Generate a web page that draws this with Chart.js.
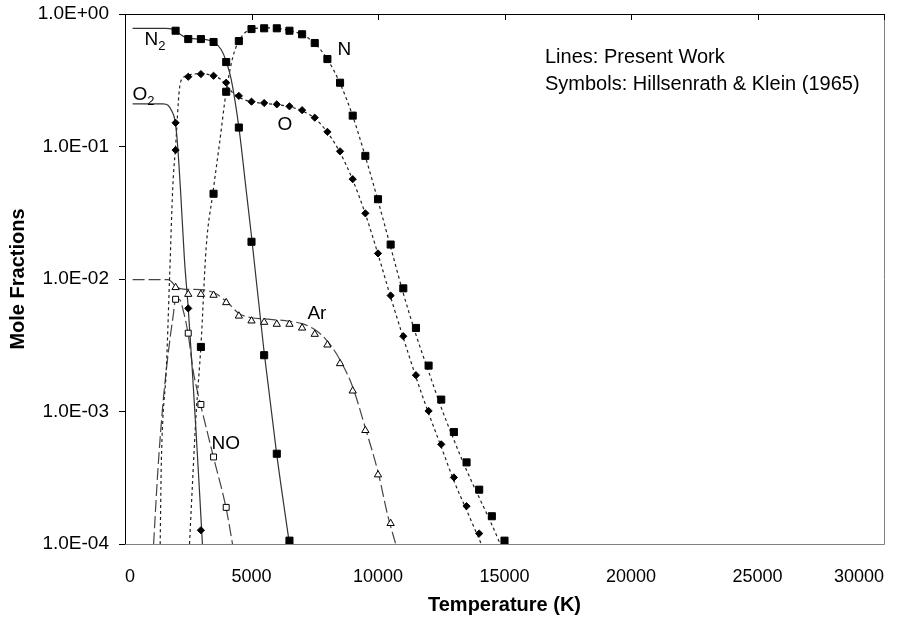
<!DOCTYPE html>
<html>
<head>
<meta charset="utf-8">
<script src="https://cdn.jsdelivr.net/npm/chart.js@4.4.1/dist/chart.umd.min.js"></script>
<style>
  html, body { margin: 0; padding: 0; background: #fff; }
  canvas { display: block; }
</style>
</head>
<body>
<canvas id="chart" width="916" height="621"></canvas>
<script>
// Axis ticks
const xTicks = [0, 5000, 10000, 15000, 20000, 25000, 30000];
const yTicks = [1e-4, 1e-3, 1e-2, 1e-1, 1];

// Symbols: Hillsenrath & Klein (1965)
const n2SymT = [2000, 2500, 3000, 3500, 4000, 4500, 5000, 5500, 6000, 6500];
const n2SymY = [0.748, 0.647, 0.647, 0.615, 0.434, 0.139, 0.0191, 2.66e-3, 4.8e-4, 1.06e-4];

const o2SymT = [2000, 2500, 3000];
const o2SymY = [0.151, 6.0e-3, 1.27e-4];

const nSymT = [3000, 3500, 4000, 4500, 5000, 5500, 6000, 6500, 7000, 7500, 8000, 8500, 9000,
  9500, 10000, 10500, 11000, 11500, 12000, 12500, 13000, 13500, 14000, 14500, 15000];
const nSymY = [3.07e-3, 0.044, 0.259, 0.625, 0.77, 0.78, 0.78, 0.748, 0.703, 0.604, 0.457, 0.303, 0.171,
  0.085, 0.040, 0.0182, 8.5e-3, 4.27e-3, 2.22e-3, 1.23e-3, 7.0e-4, 4.13e-4, 2.57e-4, 1.62e-4, 1.06e-4];

const oSymT = [2000, 2500, 3000, 3500, 4000, 4500, 5000, 5500, 6000, 6500, 7000, 7500, 8000,
  8500, 9000, 9500, 10000, 10500, 11000, 11500, 12000, 12500, 13000, 13500, 14000];
const oSymY = [0.094, 0.336, 0.352, 0.342, 0.303, 0.241, 0.218, 0.213, 0.208, 0.201, 0.188, 0.165, 0.129,
  0.092, 0.0567, 0.0313, 0.0156, 7.5e-3, 3.7e-3, 1.88e-3, 1.01e-3, 5.65e-4, 3.18e-4, 1.93e-4, 1.20e-4];

const arSymT = [2000, 2500, 3000, 3500, 4000, 4500, 5000, 5500, 6000, 6500, 7000, 7500, 8000,
  8500, 9000, 9500, 10000, 10500];
const arSymY = [8.63e-3, 7.67e-3, 7.67e-3, 7.55e-3, 6.64e-3, 5.26e-3, 4.83e-3, 4.72e-3, 4.56e-3, 4.56e-3,
  4.27e-3, 3.83e-3, 3.18e-3, 2.30e-3, 1.43e-3, 7.2e-4, 3.33e-4, 1.43e-4];

const noSymT = [2000, 2500, 3000, 3500, 4000];
const noSymY = [7.03e-3, 3.9e-3, 1.13e-3, 4.54e-4, 1.89e-4];

// Lines: present work
const n2LineT = [300, 1600, 1900, 2100, 2400, 2800, 3200, 3500, 3800, 4000, 4200, 4500, 4800, 5000, 5500, 6000, 6500];
const n2LineY = [0.78, 0.78, 0.765, 0.72, 0.665, 0.65, 0.64, 0.615, 0.54, 0.44, 0.32, 0.14, 0.045, 0.021, 2.8e-3, 4.7e-4, 1.0e-4];

const o2LineT = [300, 1500, 1700, 1850, 1950, 2050, 2200, 2350, 2500, 2650, 2800, 2950, 3060];
const o2LineY = [0.21, 0.21, 0.205, 0.185, 0.165, 0.12, 0.045, 0.014, 6.0e-3, 2.2e-3, 7.5e-4, 2.4e-4, 1.0e-4];

const nLineT = [2550, 2680, 2810, 3000, 3210, 3470, 3735, 4000, 4260, 4500, 5000, 5500, 6000, 6500, 7000,
  7500, 8000, 8500, 9000, 9500, 10000, 10500, 11000, 11500, 12000, 12500, 13000, 13500, 14000, 14500, 14830];
const nLineY = [1e-4, 3.2e-4, 9.5e-4, 3.1e-3, 0.0175, 0.044, 0.105, 0.26, 0.47, 0.625, 0.77, 0.785, 0.78, 0.748, 0.70,
  0.60, 0.455, 0.30, 0.17, 0.084, 0.039, 0.0174, 7.8e-3, 3.8e-3, 2.0e-3, 1.07e-3, 6.1e-4, 3.6e-4, 2.24e-4, 1.4e-4, 1.0e-4];

const oLineT = [1391, 1430, 1494, 1628, 1759, 1890, 2000, 2150, 2300, 2500, 3000, 3500, 3800, 4000, 4300, 4600,
  5000, 6000, 6500, 7000, 7500, 8000, 8500, 9000, 9500, 10000, 10500, 11000, 11500, 12000, 12500, 13000, 13500, 14080];
const oLineY = [1e-4, 3.6e-4, 8.6e-4, 2.0e-3, 9.8e-3, 0.05, 0.1, 0.27, 0.33, 0.345, 0.355, 0.34, 0.32, 0.29, 0.25, 0.23,
  0.218, 0.207, 0.20, 0.186, 0.163, 0.128, 0.09, 0.056, 0.031, 0.0154, 7.3e-3, 3.6e-3, 1.82e-3, 9.7e-4, 5.4e-4, 3.0e-4, 1.8e-4, 1.0e-4];

const arLineT = [300, 1700, 1850, 2000, 2300, 3000, 3500, 4000, 4500, 5000, 5500, 6500, 7000, 7500, 8000,
  8500, 9000, 9500, 10000, 10400, 10700];
const arLineY = [9.9e-3, 9.9e-3, 9.5e-3, 8.8e-3, 8.4e-3, 8.3e-3, 7.9e-3, 6.8e-3, 5.5e-3, 5.1e-3, 5.0e-3, 4.8e-3, 4.6e-3,
  4.15e-3, 3.4e-3, 2.45e-3, 1.53e-3, 7.5e-4, 3.5e-4, 1.6e-4, 1.0e-4];

const noLineT = [1130, 1300, 1500, 1650, 1800, 1900, 2000, 2150, 2300, 2500, 2700, 2850, 3000, 3500, 4000, 4250];
const noLineY = [1e-4, 3.6e-4, 1.15e-3, 2.2e-3, 3.8e-3, 5.2e-3, 7.0e-3, 7.0e-3, 5.8e-3, 3.8e-3, 2.0e-3, 1.45e-3, 1.1e-3, 4.5e-4, 1.85e-4, 1.0e-4];

// Species labels and note text
const speciesLabels = [
  { text: 'N', sub: '2', t: 770, v: 0.636 },
  { text: 'O', sub: '2', t: 296, v: 0.244 },
  { text: 'N', sub: '', t: 8400, v: 0.534 },
  { text: 'O', sub: '', t: 6030, v: 0.145 },
  { text: 'Ar', sub: '', t: 7210, v: 5.5e-3 },
  { text: 'NO', sub: '', t: 3420, v: 5.75e-4 }
];
const noteLines = ['Lines: Present Work', 'Symbols: Hillsenrath & Klein (1965)'];

const FONT = 'Liberation Sans, Arial, sans-serif';

function pts(xs, ys) {
  return xs.map((x, i) => ({ x: x, y: ys[i] }));
}

function symbols(xs, ys, style, radius, fill) {
  return {
    data: pts(xs, ys),
    showLine: false,
    pointStyle: style,
    pointRadius: radius,
    pointBackgroundColor: fill,
    pointBorderColor: '#000',
    pointBorderWidth: 1
  };
}

function curve(xs, ys, dash, color) {
  return {
    data: pts(xs, ys),
    showLine: true,
    pointRadius: 0,
    borderColor: color,
    borderWidth: 1.2,
    borderDash: dash,
    cubicInterpolationMode: 'monotone'
  };
}

const datasets = [
  symbols(n2SymT, n2SymY, 'rect', 5, '#000'),
  symbols(nSymT, nSymY, 'rect', 5, '#000'),
  symbols(o2SymT, o2SymY, 'rectRot', 3.6, '#000'),
  symbols(oSymT, oSymY, 'rectRot', 3.6, '#000'),
  symbols(arSymT, arSymY, 'triangle', 4.2, '#fff'),
  symbols(noSymT, noSymY, 'rect', 4.2, '#fff'),
  curve(n2LineT, n2LineY, [], '#333'),
  curve(o2LineT, o2LineY, [], '#333'),
  curve(nLineT, nLineY, [3, 3], '#222'),
  curve(oLineT, oLineY, [3, 3], '#222'),
  curve(arLineT, arLineY, [12, 4], '#444'),
  curve(noLineT, noLineY, [12, 4], '#444')
];

// frame, inner top ticks, species labels and note
const decorPlugin = {
  id: 'decor',
  afterDraw(chart) {
    const ctx = chart.ctx;
    const a = chart.chartArea;
    const xs = chart.scales.x;
    const ys = chart.scales.y;
    ctx.save();
    ctx.lineWidth = 1;
    ctx.strokeStyle = '#000';
    ctx.beginPath();
    ctx.moveTo(a.left + 0.5, a.bottom + 0.5);
    ctx.lineTo(a.left + 0.5, a.top + 0.5);
    ctx.lineTo(a.right + 0.5, a.top + 0.5);
    ctx.stroke();
    ctx.strokeStyle = '#808080';
    ctx.beginPath();
    ctx.moveTo(a.right + 0.5, a.top + 0.5);
    ctx.lineTo(a.right + 0.5, a.bottom + 0.5);
    ctx.lineTo(a.left + 0.5, a.bottom + 0.5);
    ctx.stroke();
    ctx.strokeStyle = '#000';
    ctx.beginPath();
    xTicks.forEach(t => {
      const px = Math.round(xs.getPixelForValue(t)) + 0.5;
      ctx.moveTo(px, a.top);
      ctx.lineTo(px, a.top + 6);
    });
    ctx.stroke();

    ctx.fillStyle = '#000';
    ctx.textBaseline = 'middle';
    ctx.textAlign = 'left';
    speciesLabels.forEach(l => {
      const px = xs.getPixelForValue(l.t);
      const py = ys.getPixelForValue(l.v);
      ctx.font = '19px ' + FONT;
      ctx.fillText(l.text, px, py);
      if (l.sub) {
        const w = ctx.measureText(l.text).width;
        ctx.font = '13px ' + FONT;
        ctx.fillText(l.sub, px + w, py + 6);
      }
    });
    ctx.font = '20px ' + FONT;
    noteLines.forEach((s, i) => {
      ctx.fillText(s, 545, 57 + i * 27);
    });
    ctx.restore();
  }
};

function expLabel(v) {
  const e = Math.round(Math.log10(v));
  return '1.0E' + (e < 0 ? '-' : '+') + String(Math.abs(e)).padStart(2, '0');
}

new Chart(document.getElementById('chart'), {
  type: 'scatter',
  data: { datasets: datasets },
  options: {
    responsive: false,
    animation: false,
    layout: { padding: { top: 14, right: 32, left: 0, bottom: 0 } },
    plugins: {
      legend: { display: false },
      tooltip: { enabled: false }
    },
    scales: {
      x: {
        type: 'linear',
        min: 0,
        max: 30000,
        afterBuildTicks: s => { s.ticks = xTicks.map(v => ({ value: v })); },
        afterFit: s => { s.height = 77; s.paddingLeft = 0; s.paddingRight = 0; },
        border: { display: false },
        grid: { display: true, drawOnChartArea: false, drawTicks: false },
        ticks: {
          padding: 22,
          maxRotation: 0,
          align: 'inner',
          color: '#000',
          font: { family: FONT, size: 18 },
          callback: v => String(v)
        },
        title: {
          display: true,
          text: 'Temperature (K)',
          color: '#000',
          font: { family: FONT, size: 20, weight: 'bold' },
          padding: { top: 0, bottom: 4 }
        }
      },
      y: {
        type: 'logarithmic',
        min: 1e-4,
        max: 1,
        afterBuildTicks: s => { s.ticks = yTicks.map(v => ({ value: v })); },
        afterFit: s => { s.width = 125; s.paddingTop = 0; s.paddingBottom = 0; },
        border: { display: false },
        grid: { drawOnChartArea: false, drawTicks: true, tickLength: 6, color: '#000' },
        ticks: {
          padding: 10,
          color: '#000',
          font: { family: FONT, size: 19 },
          callback: v => expLabel(v)
        },
        title: {
          display: true,
          text: 'Mole Fractions',
          color: '#000',
          font: { family: FONT, size: 20, weight: 'bold' },
          padding: { top: 6, bottom: 0 }
        }
      }
    }
  },
  plugins: [decorPlugin]
});
</script>
</body>
</html>
